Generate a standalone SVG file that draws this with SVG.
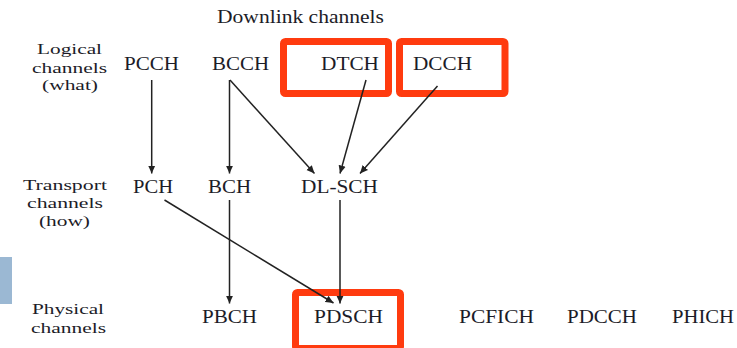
<svg xmlns="http://www.w3.org/2000/svg" width="737" height="348" viewBox="0 0 737 348">
<style>
text{font-family:"Liberation Serif","Times New Roman","DejaVu Serif",serif;fill:#1c1c28}
.n{font-size:19px}
.l{font-size:15.5px}
.c line{stroke:#222;stroke-width:1.5;marker-end:url(#ah)}
.hl{fill:none;stroke:#ff3b0f;stroke-width:7}
</style>
<defs>
<marker id="ah" viewBox="0 0 10 10" refX="10" refY="5" markerWidth="8" markerHeight="8" markerUnits="userSpaceOnUse" orient="auto">
<path d="M0,0.5 L10,5 L0,9.5 Z" fill="#222"/>
</marker>
</defs>
<rect width="737" height="348" fill="#fff"/>
<rect x="0" y="257" width="12" height="47" fill="#9bb8d3"/>
<text class="n" x="217" y="23" textLength="167" lengthAdjust="spacingAndGlyphs">Downlink channels</text>
<g id="labels">
<text class="l" x="37" y="54" textLength="65" lengthAdjust="spacingAndGlyphs">Logical</text>
<text class="l" x="32" y="73" textLength="75" lengthAdjust="spacingAndGlyphs">channels</text>
<text class="l" x="42" y="90" textLength="56" lengthAdjust="spacingAndGlyphs">(what)</text>
<text class="l" x="23" y="190" textLength="84" lengthAdjust="spacingAndGlyphs">Transport</text>
<text class="l" x="27" y="208" textLength="76" lengthAdjust="spacingAndGlyphs">channels</text>
<text class="l" x="39" y="226" textLength="51" lengthAdjust="spacingAndGlyphs">(how)</text>
<text class="l" x="32" y="314" textLength="72" lengthAdjust="spacingAndGlyphs">Physical</text>
<text class="l" x="31" y="333" textLength="75" lengthAdjust="spacingAndGlyphs">channels</text>
</g>
<g id="PCCH"><text class="n" x="124" y="69.5" textLength="55" lengthAdjust="spacingAndGlyphs">PCCH</text></g>
<g id="BCCH"><text class="n" x="212" y="69.5" textLength="57" lengthAdjust="spacingAndGlyphs">BCCH</text></g>
<g id="DTCH"><rect class="hl" x="283.5" y="41.5" width="105" height="52" rx="2"/><text class="n" x="321" y="70" textLength="58" lengthAdjust="spacingAndGlyphs">DTCH</text></g>
<g id="DCCH"><rect class="hl" x="399.5" y="41.5" width="105.5" height="52" rx="2"/><text class="n" x="413" y="69.5" textLength="59" lengthAdjust="spacingAndGlyphs">DCCH</text></g>
<g id="PCH"><text class="n" x="133" y="192.5" textLength="40" lengthAdjust="spacingAndGlyphs">PCH</text></g>
<g id="BCH"><text class="n" x="208" y="192.5" textLength="43" lengthAdjust="spacingAndGlyphs">BCH</text></g>
<g id="DLSCH"><text class="n" x="301" y="192.5" textLength="77" lengthAdjust="spacingAndGlyphs">DL-SCH</text></g>
<g id="PBCH"><text class="n" x="202" y="322.5" textLength="55" lengthAdjust="spacingAndGlyphs">PBCH</text></g>
<g id="PDSCH"><rect class="hl" x="295.5" y="292.5" width="105" height="56" rx="2"/><text class="n" x="314" y="322.5" textLength="69" lengthAdjust="spacingAndGlyphs">PDSCH</text></g>
<g id="PCFICH"><text class="n" x="459" y="322.5" textLength="75" lengthAdjust="spacingAndGlyphs">PCFICH</text></g>
<g id="PDCCH"><text class="n" x="567" y="322.5" textLength="70" lengthAdjust="spacingAndGlyphs">PDCCH</text></g>
<g id="PHICH"><text class="n" x="672" y="322.5" textLength="62" lengthAdjust="spacingAndGlyphs">PHICH</text></g>
<g id="connectors" class="c">
<line x1="151.7" y1="80" x2="151.7" y2="173.5"/>
<line x1="229.5" y1="80" x2="229.5" y2="173.5"/>
<line x1="230" y1="80" x2="314.5" y2="173.5"/>
<line x1="366" y1="80" x2="340" y2="173.5"/>
<line x1="437.5" y1="86" x2="360" y2="173.5"/>
<line x1="164.5" y1="200" x2="333.5" y2="303"/>
<line x1="229.5" y1="200" x2="229.5" y2="303.5"/>
<line x1="340" y1="200" x2="340" y2="303.5"/>
</g>
</svg>
